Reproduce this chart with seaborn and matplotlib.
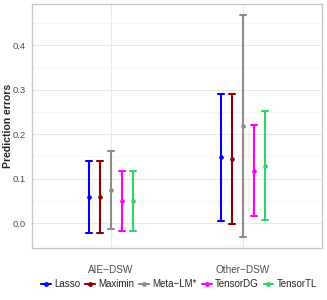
import matplotlib
matplotlib.use("Agg")
import matplotlib.pyplot as plt
import numpy as np
import pandas as pd
import seaborn as sns
from matplotlib.lines import Line2D
from matplotlib.ticker import MultipleLocator

# Data
domains = ["AIE\u2212DSW", "Other\u2212DSW"]
methods = ["Lasso", "Maximin", "Meta\u2212LM*", "TensorDG", "TensorTL"]
colors = ["#0000FF", "#8B0000", "#8C8C8C", "#FF00FF", "#33D467"]

# per method: [AIE-DSW, Other-DSW]
mean_err = {
    "Lasso": [0.058, 0.148],
    "Maximin": [0.058, 0.144],
    "Meta\u2212LM*": [0.074, 0.218],
    "TensorDG": [0.049, 0.118],
    "TensorTL": [0.049, 0.129],
}
lower_err = {
    "Lasso": [-0.022, 0.005],
    "Maximin": [-0.022, -0.002],
    "Meta\u2212LM*": [-0.014, -0.032],
    "TensorDG": [-0.018, 0.016],
    "TensorTL": [-0.018, 0.007],
}
upper_err = {
    "Lasso": [0.140, 0.291],
    "Maximin": [0.140, 0.290],
    "Meta\u2212LM*": [0.163, 0.468],
    "TensorDG": [0.118, 0.220],
    "TensorTL": [0.118, 0.252],
}

# Long-form table: lower / mean / upper per group, median = mean, full range = interval
rows = []
for m in methods:
    for i, d in enumerate(domains):
        for v in (lower_err[m][i], mean_err[m][i], upper_err[m][i]):
            rows.append({"Domain": d, "Method": m, "Error": v})
data = pd.DataFrame(rows)

sns.set_theme(style="whitegrid")
plt.rcParams["font.family"] = ["Liberation Sans", "DejaVu Sans"]

fig = plt.figure(figsize=(3.27, 3.0), dpi=100)
ax = fig.add_axes([0.098, 0.173, 0.887, 0.814])

sns.pointplot(
    data=data,
    x="Domain",
    y="Error",
    hue="Method",
    order=domains,
    hue_order=methods,
    palette=colors,
    estimator=np.median,
    errorbar=("pi", 100),
    dodge=0.33,
    linestyle="none",
    markers="o",
    markersize=1.3,
    capsize=0.045,
    err_kws={"linewidth": 1.5},
    legend=False,
    ax=ax,
)

ax.set_xlim(-0.6, 1.6)
ax.set_ylim(-0.056, 0.493)
ax.yaxis.set_minor_locator(MultipleLocator(0.05))
ax.set_yticks([0.0, 0.1, 0.2, 0.3, 0.4])
ax.set_yticklabels(["0.0", "0.1", "0.2", "0.3", "0.4"])
ax.grid(which="major", color="#E3E3E3", linewidth=0.6)
ax.grid(which="minor", axis="y", color="#F0F0F0", linewidth=0.4)
ax.set_axisbelow(True)
for s in ax.spines.values():
    s.set_color("#C8C8C8")
    s.set_linewidth(1.0)
ax.tick_params(axis="both", which="major", labelsize=6.8, labelcolor="#4D4D4D",
               color="#B3B3B3", length=2.5, width=0.6, pad=2)
ax.tick_params(axis="both", which="minor", length=0)
ax.tick_params(axis="x", labelsize=7.2, pad=10)
ax.set_xlabel("")
ax.set_ylabel("Prediction errors", fontsize=7.5, fontweight="bold")
ax.yaxis.set_label_coords(-0.064, 0.5)

handles = [
    Line2D([0], [0], color=c, lw=1.5, marker="o", markersize=2.5)
    for c in colors
]
fig.legend(
    handles,
    methods,
    loc="center",
    bbox_to_anchor=(0.548, 0.053),
    ncol=5,
    frameon=False,
    fontsize=7.0,
    handlelength=1.0,
    handletextpad=0.35,
    columnspacing=0.5,
)

fig.savefig("out.png", dpi=100)
